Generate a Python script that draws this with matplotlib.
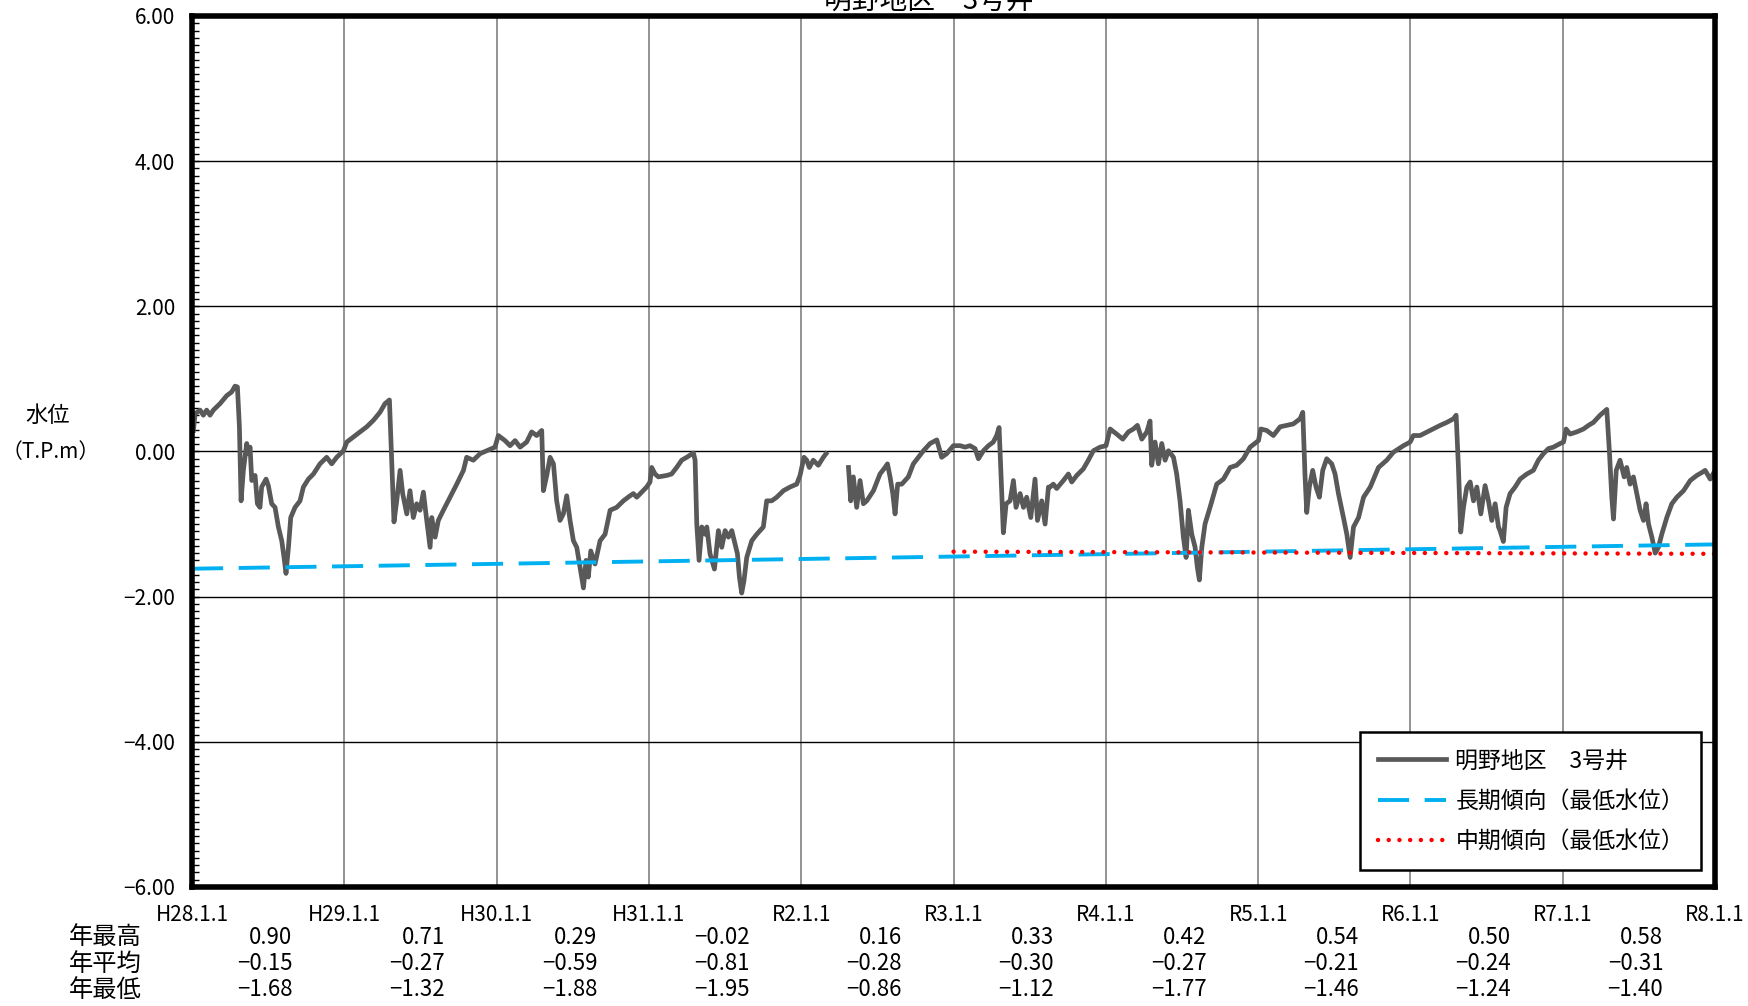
import numpy as np
import matplotlib
matplotlib.use("Agg")
import matplotlib.pyplot as plt
import matplotlib.ticker as mticker
import matplotlib.transforms as mtransforms

plt.rcParams["font.family"] = ["Noto Sans CJK JP", "DejaVu Sans"]
plt.rcParams["axes.unicode_minus"] = True

TITLE = "明野地区　3号井"

# groundwater level (T.P.m), x = decimal year, nan = missing period
water_t = [
    2016.009, 2016.020, 2016.053, 2016.074, 2016.096, 2016.118, 2016.140, 2016.184,
    2016.228, 2016.260, 2016.282, 2016.298, 2016.311, 2016.322, 2016.337, 2016.359,
    2016.370, 2016.381, 2016.392, 2016.414, 2016.429, 2016.446, 2016.457, 2016.486,
    2016.501, 2016.523, 2016.545, 2016.567, 2016.589, 2016.604, 2016.617, 2016.633,
    2016.648, 2016.676, 2016.709, 2016.731, 2016.764, 2016.797, 2016.840, 2016.884,
    2016.917, 2016.950, 2016.994, 2017.016, 2017.059, 2017.103, 2017.147, 2017.191,
    2017.234, 2017.267, 2017.296, 2017.311, 2017.326, 2017.344, 2017.366, 2017.383,
    2017.410, 2017.431, 2017.453, 2017.475, 2017.497, 2017.519, 2017.541, 2017.563,
    2017.574, 2017.596, 2017.617, 2017.650, 2017.694, 2017.738, 2017.782, 2017.803,
    2017.847, 2017.891, 2017.935, 2017.989, 2018.011, 2018.055, 2018.088, 2018.121,
    2018.154, 2018.197, 2018.230, 2018.263, 2018.296, 2018.307, 2018.329, 2018.351,
    2018.373, 2018.394, 2018.416, 2018.438, 2018.460, 2018.482, 2018.504, 2018.526,
    2018.548, 2018.570, 2018.587, 2018.602, 2018.618, 2018.646, 2018.679, 2018.712,
    2018.745, 2018.788, 2018.832, 2018.876, 2018.898, 2018.920, 2018.953, 2018.985,
    2019.007, 2019.018, 2019.040, 2019.062, 2019.117, 2019.149, 2019.182, 2019.215,
    2019.248, 2019.292, 2019.303, 2019.314, 2019.329, 2019.347, 2019.369, 2019.380,
    2019.401, 2019.430, 2019.456, 2019.478, 2019.500, 2019.522, 2019.544, 2019.565,
    2019.581, 2019.594, 2019.609, 2019.624, 2019.642, 2019.675, 2019.708, 2019.751,
    2019.773, 2019.806, 2019.839, 2019.883, 2019.926, 2019.970, 2019.992, 2020.018,
    2020.036, 2020.053, 2020.079, 2020.112, 2020.145, 2020.163, 2020.240,
    2020.310, 2020.325, 2020.342, 2020.364, 2020.386, 2020.408, 2020.430, 2020.474,
    2020.517, 2020.550, 2020.566, 2020.583, 2020.601, 2020.616, 2020.633, 2020.660,
    2020.703, 2020.736, 2020.769, 2020.802, 2020.846, 2020.890, 2020.922, 2020.955,
    2020.999, 2021.043, 2021.075, 2021.108, 2021.141, 2021.163, 2021.196, 2021.229,
    2021.261, 2021.283, 2021.299, 2021.312, 2021.327, 2021.345, 2021.371, 2021.393,
    2021.410, 2021.437, 2021.459, 2021.480, 2021.507, 2021.535, 2021.551, 2021.579,
    2021.601, 2021.623, 2021.634, 2021.655, 2021.677, 2021.721, 2021.754, 2021.776,
    2021.809, 2021.852, 2021.885, 2021.918, 2021.962, 2022.001, 2022.028, 2022.071,
    2022.111, 2022.148, 2022.181, 2022.207, 2022.236, 2022.269, 2022.290, 2022.301,
    2022.323, 2022.345, 2022.367, 2022.389, 2022.411, 2022.444, 2022.465, 2022.487,
    2022.509, 2022.527, 2022.542, 2022.564, 2022.586, 2022.601, 2022.614, 2022.630,
    2022.651, 2022.684, 2022.728, 2022.772, 2022.816, 2022.859, 2022.903, 2022.947,
    2023.002, 2023.017, 2023.056, 2023.100, 2023.144, 2023.188, 2023.231, 2023.275,
    2023.293, 2023.308, 2023.319, 2023.336, 2023.358, 2023.380, 2023.402, 2023.424,
    2023.450, 2023.483, 2023.505, 2023.527, 2023.560, 2023.582, 2023.604, 2023.626,
    2023.659, 2023.692, 2023.736, 2023.790, 2023.844, 2023.888, 2023.954, 2023.998,
    2024.019, 2024.063, 2024.129, 2024.195, 2024.238, 2024.282, 2024.300, 2024.315,
    2024.330, 2024.348, 2024.370, 2024.392, 2024.414, 2024.436, 2024.462, 2024.490,
    2024.512, 2024.534, 2024.556, 2024.578, 2024.588, 2024.610, 2024.628, 2024.654,
    2024.687, 2024.720, 2024.764, 2024.807, 2024.840, 2024.873, 2024.906, 2024.939,
    2024.983, 2025.005, 2025.022, 2025.048, 2025.092, 2025.136, 2025.169, 2025.201,
    2025.245, 2025.289, 2025.307, 2025.322, 2025.333, 2025.351, 2025.376, 2025.403,
    2025.420, 2025.442, 2025.464, 2025.486, 2025.508, 2025.530, 2025.547, 2025.563,
    2025.585, 2025.607, 2025.628, 2025.650, 2025.683, 2025.716, 2025.749, 2025.793,
    2025.837, 2025.880, 2025.913, 2025.935, 2025.968, 2026.000,
]
water_v = [
    0.29, 0.52, 0.57, 0.50, 0.57, 0.50, 0.57, 0.66,
    0.77, 0.82, 0.90, 0.89, 0.34, -0.68, -0.26, 0.11,
    -0.03, 0.06, -0.40, -0.33, -0.72, -0.77, -0.49, -0.38,
    -0.47, -0.72, -0.77, -1.04, -1.23, -1.46, -1.68, -1.32,
    -0.91, -0.77, -0.68, -0.49, -0.38, -0.31, -0.17, -0.08,
    -0.17, -0.08, 0.01, 0.13, 0.20, 0.27, 0.34, 0.43,
    0.54, 0.66, 0.71, -0.12, -0.97, -0.68, -0.26, -0.58,
    -0.86, -0.54, -0.91, -0.72, -0.81, -0.56, -0.95, -1.32,
    -0.91, -1.18, -0.95, -0.81, -0.63, -0.45, -0.26, -0.08,
    -0.12, -0.03, 0.01, 0.06, 0.22, 0.15, 0.08, 0.15,
    0.06, 0.13, 0.27, 0.22, 0.29, -0.54, -0.33, -0.08,
    -0.17, -0.68, -0.95, -0.86, -0.61, -0.95, -1.23, -1.32,
    -1.60, -1.88, -1.50, -1.73, -1.37, -1.55, -1.23, -1.14,
    -0.81, -0.77, -0.68, -0.61, -0.58, -0.63, -0.56, -0.49,
    -0.42, -0.22, -0.31, -0.35, -0.33, -0.31, -0.22, -0.12,
    -0.08, -0.02, -0.12, -1.00, -1.50, -1.04, -1.14, -1.04,
    -1.41, -1.62, -1.09, -1.32, -1.09, -1.18, -1.09, -1.27,
    -1.41, -1.73, -1.95, -1.78, -1.46, -1.23, -1.14, -1.04,
    -0.68, -0.68, -0.63, -0.54, -0.49, -0.45, -0.33, -0.08,
    -0.12, -0.22, -0.12, -0.19, -0.08, -0.03, np.nan,
    -0.22, -0.68, -0.35, -0.77, -0.40, -0.72, -0.68, -0.54,
    -0.31, -0.22, -0.17, -0.35, -0.58, -0.86, -0.45, -0.45,
    -0.35, -0.17, -0.08, 0.01, 0.11, 0.16, -0.08, -0.03,
    0.08, 0.08, 0.06, 0.08, 0.04, -0.10, 0.01, 0.08,
    0.13, 0.22, 0.33, -0.35, -1.12, -0.72, -0.68, -0.40,
    -0.77, -0.58, -0.77, -0.63, -0.91, -0.38, -0.95, -0.68,
    -1.00, -0.49, -0.49, -0.45, -0.51, -0.40, -0.31, -0.42,
    -0.33, -0.24, -0.12, 0.01, 0.06, 0.08, 0.31, 0.24,
    0.17, 0.27, 0.31, 0.36, 0.17, 0.27, 0.42, -0.19,
    0.13, -0.17, 0.11, -0.12, 0.01, -0.08, -0.31, -0.68,
    -1.18, -1.46, -0.81, -1.14, -1.32, -1.60, -1.77, -1.32,
    -1.00, -0.77, -0.45, -0.38, -0.22, -0.19, -0.10, 0.06,
    0.15, 0.31, 0.29, 0.22, 0.34, 0.36, 0.38, 0.45,
    0.54, -0.35, -0.84, -0.49, -0.26, -0.49, -0.63, -0.26,
    -0.10, -0.17, -0.31, -0.58, -0.91, -1.14, -1.46, -1.04,
    -0.91, -0.63, -0.49, -0.22, -0.12, -0.01, 0.08, 0.13,
    0.22, 0.22, 0.29, 0.36, 0.40, 0.45, 0.50, -0.22,
    -1.11, -0.77, -0.49, -0.42, -0.68, -0.49, -0.86, -0.47,
    -0.68, -0.95, -0.72, -1.04, -1.09, -1.24, -0.77, -0.58,
    -0.49, -0.38, -0.31, -0.26, -0.12, -0.03, 0.04, 0.06,
    0.11, 0.13, 0.31, 0.24, 0.27, 0.31, 0.36, 0.40,
    0.50, 0.58, -0.03, -0.63, -0.93, -0.26, -0.12, -0.35,
    -0.22, -0.45, -0.35, -0.58, -0.81, -0.95, -0.72, -1.00,
    -1.18, -1.40, -1.32, -1.14, -0.91, -0.72, -0.63, -0.54,
    -0.40, -0.33, -0.29, -0.26, -0.38, -0.26,
]

# trend lines of the annual minimum
long_t = [2016.0, 2026.0]
long_v = [-1.615, -1.28]
mid_t = [2021.0, 2026.0]
mid_v = [-1.38, -1.41]

years = list(range(2016, 2027))
year_labels = ["H28.1.1", "H29.1.1", "H30.1.1", "H31.1.1", "R2.1.1", "R3.1.1",
               "R4.1.1", "R5.1.1", "R6.1.1", "R7.1.1", "R8.1.1"]

row_names = ["年最高", "年平均", "年最低"]
year_max = [0.90, 0.71, 0.29, -0.02, 0.16, 0.33, 0.42, 0.54, 0.50, 0.58]
year_mean = [-0.15, -0.27, -0.59, -0.81, -0.28, -0.30, -0.27, -0.21, -0.24, -0.31]
year_min = [-1.68, -1.32, -1.88, -1.95, -0.86, -1.12, -1.77, -1.46, -1.24, -1.40]


def fmt(v):
    return "{:.2f}".format(v).replace("-", "\u2212")


fig = plt.figure(figsize=(17.49, 10.06), dpi=100)
ax = fig.add_axes([0.1098, 0.1183, 0.8708, 0.8658])

ax.plot(water_t, water_v, color="#595959", lw=3.4, label="明野地区　3号井",
        solid_joinstyle="round", zorder=3)
ax.plot(long_t, long_v, color="#00B0F0", lw=2.8, dashes=(8, 4),
        label="長期傾向（最低水位）", zorder=4)
ax.plot(mid_t, mid_v, color="#FF0000", lw=3.2, dashes=(0.01, 2.4),
        dash_capstyle="round", label="中期傾向（最低水位）", zorder=5)

ax.set_xlim(2016, 2026)
ax.set_ylim(-6, 6)
ax.set_xticks(years)
ax.set_xticklabels(year_labels)
ax.yaxis.set_major_locator(mticker.MultipleLocator(2))
ax.yaxis.set_minor_locator(mticker.MultipleLocator(0.1))
ax.yaxis.set_major_formatter(mticker.FuncFormatter(lambda v, p: fmt(v)))
ax.tick_params(axis="y", which="both", direction="in", length=5, width=1,
               labelsize=15, pad=12)
ax.tick_params(axis="x", length=0, labelsize=15, pad=12)

ax.grid(axis="x", color="#808080", lw=1.2, zorder=1)
ax.grid(axis="y", color="#000000", lw=1.0, zorder=1)
for s in ax.spines.values():
    s.set_linewidth(4)
    s.set_zorder(6)

leg = ax.legend(loc="lower right", bbox_to_anchor=(0.991, 0.0195),
                borderaxespad=0, fontsize=16.5, handlelength=3.0,
                labelspacing=0.75, borderpad=0.75, handletextpad=0.4,
                fancybox=False, framealpha=1, edgecolor="black")
leg.get_frame().set_linewidth(1.8)

fig.text(0.531, 0.991, TITLE, ha="center", va="baseline", fontsize=20)
fig.text(0.027, 0.5865, "水位", ha="center", va="center", fontsize=16)
fig.text(0.029, 0.5507, "（T.P.m）", ha="center", va="center", fontsize=15)

trans = mtransforms.blended_transform_factory(ax.transData, fig.transFigure)
row_y = [1 - 937 / 1006, 1 - 964 / 1006, 1 - 990 / 1006]
for name, y in zip(row_names, row_y):
    fig.text(0.0395, y, name, ha="left", va="center", fontsize=17.5)
for vals, y in zip([year_max, year_mean, year_min], row_y):
    for yr, v in zip(years[:-1], vals):
        ax.text(yr + 0.66, y, fmt(v), transform=trans, ha="right",
                va="center", fontsize=16, clip_on=False)

fig.savefig("out.png", dpi=100, facecolor="white")
